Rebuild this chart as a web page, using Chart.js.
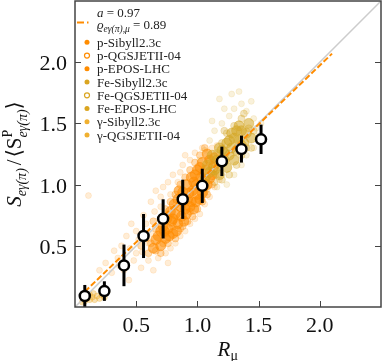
<!DOCTYPE html>
<html>
<head>
<meta charset="utf-8">
<script src="https://cdn.jsdelivr.net/npm/chart.js@4"></script>
<style>
  html, body { margin: 0; padding: 0; background: #fff; }
  #wrap { width: 382px; height: 361px; }
</style>
</head>
<body>
<div id="wrap"><canvas id="c" width="382" height="361"></canvas></div>
<script>
// binned means with error bars
const meanX = [0.08, 0.24, 0.40, 0.56, 0.72, 0.88, 1.04, 1.20, 1.36, 1.52]
const meanY = [0.09, 0.13, 0.34, 0.58, 0.72, 0.88, 0.99, 1.19, 1.29, 1.37]
const meanErr = [0.09, 0.08, 0.17, 0.18, 0.16, 0.16, 0.14, 0.12, 0.11, 0.12]

// fitted line (a = 0.97) and the y = x reference
const fitLine = [[0.08, 0.125], [2.10, 2.07]]
const diagLine = [[0, 0], [2.5, 2.5]]

// proton showers: dense core, medium ring, sparse halo
const protonCore = [
  [0.64,0.48],[0.70,0.50],[0.68,0.58],[0.74,0.56],[0.76,0.64],[0.72,0.66],[0.80,0.60],[0.79,0.70],
  [0.84,0.68],[0.82,0.76],[0.87,0.74],[0.78,0.78],[0.86,0.82],[0.90,0.80],[0.84,0.88],[0.92,0.88],
  [0.88,0.94],[0.95,0.86],[0.96,0.95],[0.91,1.00],[0.99,1.00],[1.00,0.92],[0.95,1.06],[1.03,1.06],
  [1.05,0.98],[1.00,1.12],[1.07,1.12],[1.10,1.05],[1.04,1.18],[1.10,1.20],[1.13,1.14],[0.98,1.08],
  [0.93,0.93],[0.85,0.95],[0.81,0.84],[0.75,0.72],[0.70,0.62],[0.66,0.55],[1.08,1.25],[1.14,1.22],
  [0.89,0.70],[0.97,0.80],[1.02,0.88],[0.77,0.58],[0.83,0.62],[0.91,0.76],[0.94,0.82],[0.99,0.86],
  [1.04,0.93],[1.08,1.00],[1.12,1.08],[0.80,0.72],[0.88,0.86],[0.97,1.02],[1.02,1.14],[0.73,0.62]
]
const protonMid = [
  [0.60,0.44],[0.62,0.52],[0.66,0.46],[0.70,0.44],[0.72,0.52],[0.66,0.64],[0.70,0.72],[0.74,0.80],
  [0.78,0.86],[0.82,0.92],[0.86,1.00],[0.90,1.06],[0.94,1.12],[0.98,1.18],[1.02,1.24],[1.06,1.30],
  [0.76,0.52],[0.82,0.56],[0.86,0.64],[0.92,0.70],[0.96,0.74],[1.00,0.80],[1.04,0.86],[1.08,0.92],
  [1.12,1.00],[1.15,1.08],[1.17,1.16],[0.58,0.56],[0.64,0.70],[0.54,0.50],[0.88,0.66],[0.94,0.78],
  [1.06,0.94],[0.80,0.66],[0.74,0.60]
]
const protonHalo = [
  [0.30,0.28],[0.35,0.40],[0.40,0.30],[0.45,0.48],[0.48,0.38],[0.52,0.55],[0.55,0.45],[0.50,0.62],
  [0.58,0.68],[0.60,0.38],[0.62,0.60],[0.56,0.75],[0.65,0.78],[0.62,0.86],[0.70,0.90],[0.68,0.40],
  [0.74,0.44],[0.78,0.48],[0.82,0.52],[0.86,0.58],[0.90,0.62],[0.94,0.68],[0.98,0.72],[1.02,0.76],
  [1.06,0.84],[1.10,0.90],[1.14,0.98],[1.18,1.04],[0.72,0.98],[0.76,1.02],[0.80,1.08],[0.86,1.10],
  [0.88,1.16],[0.94,1.20],[0.98,1.26],[1.04,1.30],[1.12,1.30],[1.18,1.12],[0.42,0.58],[0.38,0.50],
  [0.25,0.36],[0.32,0.46],[0.46,0.68],[0.66,0.95],[0.11,0.91],[0.20,0.30],[0.44,0.22],[0.54,0.32],
  [0.64,0.30],[0.60,0.52],[0.76,0.36],[1.22,1.18],[0.84,1.02],[1.16,1.32],[0.90,1.24],[0.78,0.92],
  [0.70,0.82],[0.58,0.60],[0.50,0.44],[0.36,0.34]
]
// iron showers
const ironCore = [
  [1.06,1.04],[1.10,1.10],[1.08,1.16],[1.14,1.12],[1.16,1.20],[1.12,1.24],[1.20,1.18],[1.22,1.26],
  [1.18,1.30],[1.26,1.24],[1.24,1.34],[1.28,1.30],[1.30,1.38],[1.32,1.28],[1.34,1.36],[1.28,1.42],
  [1.36,1.44],[1.38,1.34],[1.40,1.42],[1.24,1.14],[1.18,1.08],[1.30,1.20],[1.42,1.50],[1.34,1.48],
  [1.44,1.38],[1.26,1.36],[1.32,1.44],[1.22,1.20],[1.36,1.32],[1.20,1.28]
]
const ironMid = [
  [1.04,1.00],[1.08,1.06],[1.12,1.16],[1.16,1.26],[1.20,1.34],[1.24,1.42],[1.30,1.48],[1.36,1.54],
  [1.42,1.46],[1.46,1.44],[1.44,1.30],[1.40,1.30],[1.36,1.24],[1.32,1.16],[1.26,1.08],[1.20,1.04],
  [1.14,1.02],[1.22,1.44],[1.38,1.58],[1.10,1.20]
]
const ironHalo = [
  [1.00,1.10],[1.02,1.20],[1.06,1.28],[1.10,1.36],[1.14,1.44],[1.20,1.50],[1.26,1.56],[1.30,1.62],
  [1.28,1.74],[1.36,1.66],[1.40,1.60],[1.46,1.54],[1.48,1.46],[1.50,1.40],[1.46,1.30],[1.40,1.24],
  [1.36,1.16],[1.30,1.08],[1.24,1.00],[1.16,0.98],[1.08,0.96],[1.12,1.52],[1.22,1.62],[1.18,1.70],
  [1.44,1.68],[1.34,1.76],[1.52,1.50]
]
// photon showers
const gammaPts = [
  [0.08,0.05],[0.10,0.07],[0.12,0.06],[0.14,0.08],[0.16,0.06],[0.18,0.09],[0.20,0.07],[0.22,0.10],
  [0.12,0.10],[0.09,0.09],[0.24,0.08],[0.26,0.12],[0.15,0.11],[0.06,0.04]
]

const xTicks = [0.5, 1.0, 1.5, 2.0]
const yTicks = [0.5, 1.0, 1.5, 2.0]
const legendNames = ["p-Sibyll2.3c", "p-QGSJETII-04", "p-EPOS-LHC", "Fe-Sibyll2.3c", "Fe-QGSJETII-04", "Fe-EPOS-LHC", "γ-Sibyll2.3c", "γ-QGSJETII-04"]

const SERIF = '"Liberation Serif", "DejaVu Serif", serif'
const ORANGE = "#ff8c00"
const GOLD = "#daa520"
const GAMMA = "#f0b030"
const legendColors = [ORANGE, ORANGE, ORANGE, GOLD, GOLD, GOLD, GAMMA, GAMMA]
const legendHollow = [false, true, false, false, true, false, false, false]

const pts = (arr) => arr.map(([x, y]) => ({ x, y }))

function drawRich(ctx, x, y, parts) {
  let cx = x
  for (const p of parts) {
    ctx.font = p.font
    ctx.fillText(p.t, cx, y + (p.dy || 0))
    cx += ctx.measureText(p.t).width + (p.gap || 0)
  }
  return cx - x
}

const MEANS = 0

const decor = {
  id: "decor",
  beforeDatasetDraw(chart, args) {
    if (args.index !== MEANS) return
    const { ctx, scales: { x, y } } = chart
    ctx.save()
    ctx.strokeStyle = "#000"
    ctx.lineWidth = 3
    meanX.forEach((mx, i) => {
      const px = x.getPixelForValue(mx)
      ctx.beginPath()
      ctx.moveTo(px, y.getPixelForValue(meanY[i] - meanErr[i]))
      ctx.lineTo(px, y.getPixelForValue(meanY[i] + meanErr[i]))
      ctx.stroke()
    })
    ctx.restore()
  },
  afterDraw(chart) {
    const { ctx, chartArea: a, scales: { x, y } } = chart
    ctx.save()

    // frame
    ctx.strokeStyle = "#444"
    ctx.lineWidth = 1.5
    ctx.strokeRect(a.left, a.top, a.right - a.left, a.bottom - a.top)

    // inward ticks
    ctx.lineWidth = 1
    ctx.beginPath()
    xTicks.forEach(v => {
      const px = Math.round(x.getPixelForValue(v)) + 0.5
      ctx.moveTo(px, a.bottom); ctx.lineTo(px, a.bottom - 6)
    })
    yTicks.forEach(v => {
      const py = Math.round(y.getPixelForValue(v)) + 0.5
      ctx.moveTo(a.left, py); ctx.lineTo(a.left + 6, py)
      ctx.moveTo(a.right, py); ctx.lineTo(a.right - 6, py)
    })
    ctx.stroke()

    // tick labels
    ctx.fillStyle = "#111"
    ctx.textBaseline = "alphabetic"
    ctx.font = "22px " + SERIF
    ctx.textAlign = "center"
    xTicks.forEach(v => ctx.fillText(v.toFixed(1), x.getPixelForValue(v), a.bottom + 25))
    ctx.textAlign = "right"
    yTicks.forEach(v => ctx.fillText(v.toFixed(1), a.left - 8, y.getPixelForValue(v) + 8))
    ctx.textAlign = "left"

    // x title
    const xt = [
      { t: "R", font: "italic 21px " + SERIF },
      { t: "μ", font: "14px " + SERIF, dy: 4 }
    ]
    ctx.font = xt[0].font
    const xw = ctx.measureText("R").width + 8
    drawRich(ctx, (a.left + a.right) / 2 - xw / 2, 356, xt)

    // y title (rotated)
    ctx.save()
    ctx.translate(21, (a.top + a.bottom) / 2)
    ctx.rotate(-Math.PI / 2)
    const big = "21px " + SERIF
    const bigI = "italic 21px " + SERIF
    const small = "italic 14px " + SERIF
    const parts1 = [
      { t: "S", font: bigI },
      { t: "eγ(π)", font: small, dy: 5, gap: 3 },
      { t: "/", font: big, gap: 2 },
      { t: "⟨S", font: big }
    ]
    let total = 0
    parts1.forEach(p => { ctx.font = p.font; total += ctx.measureText(p.t).width + (p.gap || 0) })
    ctx.font = small
    const subW = ctx.measureText("eγ(π)").width
    ctx.font = big
    total += subW + ctx.measureText("⟩").width
    let sx = -total / 2
    sx += drawRich(ctx, sx, 0, parts1)
    ctx.font = "14px " + SERIF
    ctx.fillText("P", sx, -9)
    ctx.font = small
    ctx.fillText("eγ(π)", sx, 6)
    sx += subW
    ctx.font = big
    ctx.fillText("⟩", sx, 0)
    ctx.restore()

    // legend
    const lx = a.left
    ctx.strokeStyle = ORANGE
    ctx.lineWidth = 2
    ctx.setLineDash([7, 3, 1.5, 3])
    ctx.beginPath(); ctx.moveTo(lx + 2, 22.5); ctx.lineTo(lx + 16, 22.5); ctx.stroke()
    ctx.setLineDash([])
    ctx.fillStyle = "#222"
    drawRich(ctx, lx + 22, 17, [
      { t: "a", font: "italic 13px " + SERIF },
      { t: " = 0.97", font: "13px " + SERIF }
    ])
    drawRich(ctx, lx + 22, 29, [
      { t: "ϱ", font: "italic 13px " + SERIF },
      { t: "eγ(π),μ", font: "italic 9.5px " + SERIF, dy: 3 },
      { t: " = 0.89", font: "13px " + SERIF }
    ])
    legendNames.forEach((name, i) => {
      const ly = 42.3 + i * 13.25
      ctx.beginPath()
      ctx.arc(lx + 12, ly, 2.5, 0, Math.PI * 2)
      if (legendHollow[i]) {
        ctx.strokeStyle = legendColors[i]; ctx.lineWidth = 1.2; ctx.stroke()
      } else {
        ctx.fillStyle = legendColors[i]; ctx.fill()
      }
      ctx.fillStyle = "#222"
      ctx.font = "13px " + SERIF
      ctx.fillText(name, lx + 22, ly + 4.5)
    })
    ctx.restore()
  }
}

const cloud = (data, color, r, order) => ({
  type: "scatter",
  data: pts(data),
  backgroundColor: color,
  borderColor: color,
  borderWidth: 0.8,
  pointRadius: r,
  order
})

new Chart(document.getElementById("c"), {
  type: "scatter",
  data: {
    datasets: [
      {
        data: pts(meanX.map((v, i) => [v, meanY[i]])),
        pointRadius: 5,
        pointBorderWidth: 2.5,
        pointBackgroundColor: "#fff",
        pointBorderColor: "#000",
        order: 0
      },
      {
        type: "line",
        data: pts(fitLine),
        borderColor: ORANGE,
        borderWidth: 2,
        borderDash: [6, 2.5],
        pointRadius: 0,
        order: 1
      },
      {
        type: "line",
        data: pts(diagLine),
        borderColor: "#cccccc",
        borderWidth: 1.5,
        pointRadius: 0,
        order: 2
      },
      cloud(gammaPts, "rgba(235, 170, 40, 0.35)", 3, 3),
      cloud(ironCore, "rgba(212, 165, 35, 0.55)", 5, 4),
      cloud(protonCore, "rgba(255, 140, 0, 0.6)", 5, 5),
      cloud(ironMid, "rgba(212, 165, 35, 0.3)", 3.5, 6),
      cloud(protonMid, "rgba(255, 140, 0, 0.32)", 3.5, 7),
      cloud(ironHalo, "rgba(218, 165, 32, 0.16)", 3, 8),
      cloud(protonHalo, "rgba(255, 140, 0, 0.16)", 3, 9)
    ]
  },
  options: {
    responsive: false,
    animation: false,
    devicePixelRatio: 1,
    layout: { autoPadding: false, padding: { top: 1, right: 1, left: 0, bottom: 0 } },
    plugins: { legend: { display: false }, tooltip: { enabled: false } },
    scales: {
      x: {
        type: "linear",
        min: 0, max: 2.5,
        grid: { display: false, drawTicks: false },
        border: { display: false },
        ticks: { display: false, stepSize: 0.5 },
        afterFit: s => { s.height = 54 }
      },
      y: {
        type: "linear",
        min: 0, max: 2.5,
        grid: { display: false, drawTicks: false },
        border: { display: false },
        ticks: { display: false, stepSize: 0.5 },
        afterFit: s => { s.width = 75 }
      }
    }
  },
  plugins: [decor]
})
</script>
</body>
</html>
